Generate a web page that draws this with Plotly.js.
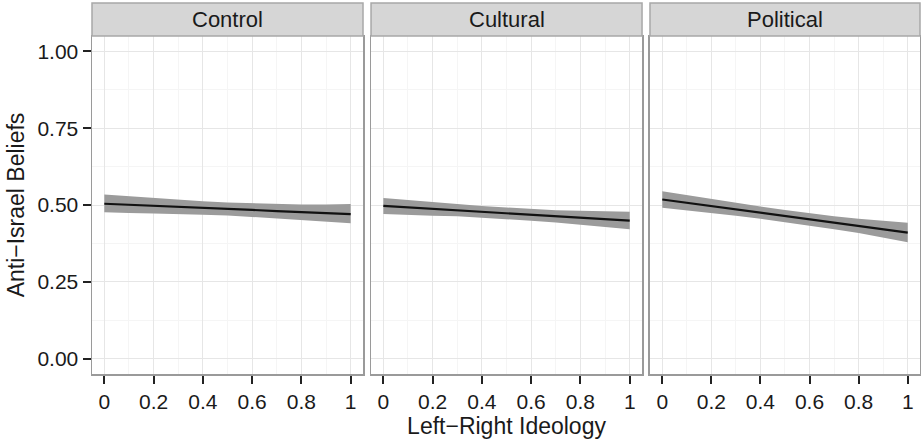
<!DOCTYPE html>
<html>
<head>
<meta charset="utf-8">
<script src="https://cdn.plot.ly/plotly-3.0.1.min.js"></script>
<style>html,body{margin:0;padding:0;background:#fff;}#chart{width:921px;height:443px;}</style>
</head>
<body>
<div id="chart"></div>
<script>
// ---- data ----
const panels = ["Control", "Cultural", "Political"];
const ideology = [0, 0.1, 0.2, 0.3, 0.4, 0.5, 0.6, 0.7, 0.8, 0.9, 1];

const controlFit   = [0.504, 0.501, 0.497, 0.494, 0.490, 0.487, 0.484, 0.480, 0.477, 0.473, 0.470];
const controlUpper = [0.534, 0.528, 0.522, 0.517, 0.512, 0.508, 0.506, 0.503, 0.502, 0.502, 0.503];
const controlLower = [0.476, 0.474, 0.472, 0.471, 0.468, 0.466, 0.462, 0.457, 0.452, 0.446, 0.441];

const culturalFit   = [0.497, 0.492, 0.487, 0.483, 0.478, 0.473, 0.468, 0.463, 0.459, 0.454, 0.449];
const culturalUpper = [0.523, 0.516, 0.509, 0.503, 0.497, 0.492, 0.487, 0.483, 0.481, 0.479, 0.478];
const culturalLower = [0.471, 0.468, 0.465, 0.463, 0.459, 0.454, 0.449, 0.443, 0.437, 0.429, 0.421];

const politicalFit   = [0.518, 0.507, 0.496, 0.486, 0.475, 0.464, 0.453, 0.442, 0.432, 0.421, 0.410];
const politicalUpper = [0.545, 0.532, 0.519, 0.507, 0.495, 0.484, 0.473, 0.463, 0.455, 0.448, 0.442];
const politicalLower = [0.491, 0.482, 0.473, 0.465, 0.455, 0.444, 0.433, 0.421, 0.409, 0.394, 0.379];

const xTickVals = [0, 0.2, 0.4, 0.6, 0.8, 1];
const xTickText = ["0", "0.2", "0.4", "0.6", "0.8", "1"];
const yTickVals = [0, 0.25, 0.5, 0.75, 1];
const yTickText = ["0.00", "0.25", "0.50", "0.75", "1.00"];

const xTitle = "Left\u2212Right Ideology";
const yTitle = "Anti\u2212Israel Beliefs";

// ---- build ----
const series = [
  {fit: controlFit, up: controlUpper, lo: controlLower},
  {fit: culturalFit, up: culturalUpper, lo: culturalLower},
  {fit: politicalFit, up: politicalUpper, lo: politicalLower}
];

const FONT = "Liberation Sans, Arial, Helvetica, sans-serif";
const TXT = "#1a1a1a";
const BORDER = "#9a9a9a";

const traces = [];
series.forEach((s, i) => {
  const xa = i === 0 ? "x" : "x" + (i + 1);
  const ya = i === 0 ? "y" : "y" + (i + 1);
  traces.push({
    x: ideology.concat(ideology.slice().reverse()),
    y: s.up.concat(s.lo.slice().reverse()),
    xaxis: xa, yaxis: ya,
    type: "scatter", mode: "lines", fill: "toself",
    fillcolor: "#9b9b9b", line: {width: 0, color: "rgba(0,0,0,0)"},
    hoverinfo: "skip", showlegend: false
  });
  traces.push({
    x: ideology, y: s.fit, xaxis: xa, yaxis: ya,
    type: "scatter", mode: "lines",
    line: {color: "#111111", width: 2.2},
    showlegend: false, name: panels[i]
  });
});

const domains = [[0, 0.3273], [0.3370, 0.6643], [0.6739, 1]];

const layout = {
  width: 921, height: 443,
  margin: {l: 92, r: 1, t: 36, b: 69, pad: 0},
  paper_bgcolor: "#ffffff", plot_bgcolor: "#ffffff",
  font: {family: FONT, color: TXT, size: 21},
  showlegend: false,
  shapes: [], annotations: []
};

panels.forEach((p, i) => {
  const sx = i === 0 ? "" : String(i + 1);
  layout["xaxis" + sx] = {
    domain: domains[i], range: [-0.05, 1.05], anchor: "y" + sx,
    tickvals: xTickVals, ticktext: xTickText,
    ticks: "outside", ticklen: 8, tickwidth: 2, tickcolor: "#222",
    tickfont: {size: 21, color: TXT, family: FONT},
    showgrid: true, gridcolor: "#e6e6e6", gridwidth: 1,
    minor: {dtick: 0.1, tick0: 0, showgrid: true, gridcolor: "#f5f5f5", gridwidth: 1, ticks: ""},
    zeroline: false, showline: true, mirror: true, linecolor: BORDER, linewidth: 1.5,
    fixedrange: true
  };
  layout["yaxis" + sx] = {
    domain: [0, 1], range: [-0.05, 1.05], anchor: "x" + sx,
    tickvals: yTickVals, ticktext: yTickText,
    showticklabels: i === 0,
    ticks: i === 0 ? "outside" : "", ticklen: 8, tickwidth: 2, tickcolor: "#222",
    tickfont: {size: 21, color: TXT, family: FONT},
    showgrid: true, gridcolor: "#e6e6e6", gridwidth: 1,
    minor: {dtick: 0.125, tick0: 0, showgrid: true, gridcolor: "#f5f5f5", gridwidth: 1, ticks: ""},
    zeroline: false, showline: true, mirror: true, linecolor: BORDER, linewidth: 1.5,
    fixedrange: true
  };
  layout.shapes.push({
    type: "rect", xref: "paper", yref: "paper",
    x0: domains[i][0], x1: domains[i][1], y0: 1, y1: 1.0976,
    fillcolor: "#d6d6d6", line: {color: "#a8a8a8", width: 1.5}, layer: "above"
  });
  layout.annotations.push({
    text: p, xref: "paper", yref: "paper",
    x: (domains[i][0] + domains[i][1]) / 2, y: 1.0488,
    xanchor: "center", yanchor: "middle", showarrow: false,
    font: {size: 22, color: TXT, family: FONT}
  });
});

layout.xaxis2.title = {text: xTitle, font: {size: 23, color: TXT, family: FONT}, standoff: 4};
layout.yaxis.title = {text: yTitle, font: {size: 23, color: TXT, family: FONT}, standoff: 6};

Plotly.newPlot("chart", traces, layout, {displayModeBar: false, staticPlot: true});
</script>
</body>
</html>
